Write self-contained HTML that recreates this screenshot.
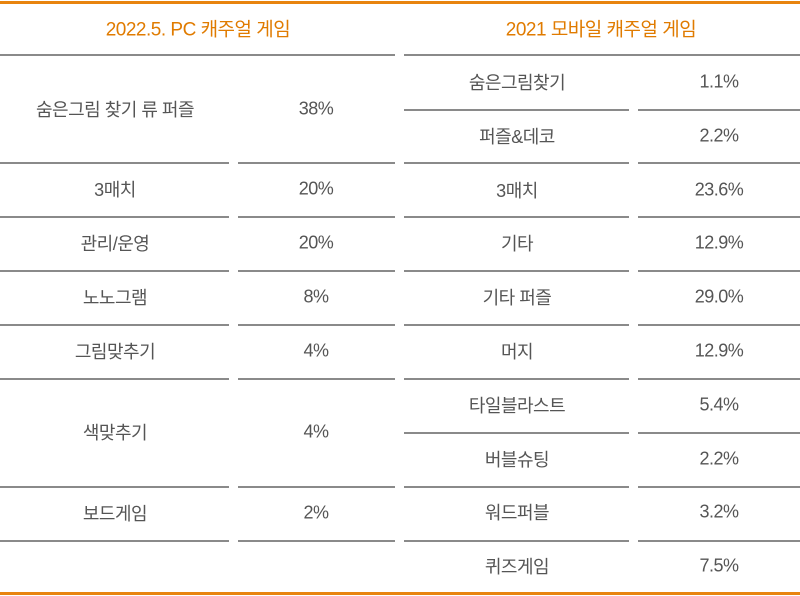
<!DOCTYPE html>
<html><head><meta charset="utf-8"><style>
body{margin:0;width:800px;height:596px;background:#fff;position:relative;overflow:hidden;font-family:"Liberation Sans","Noto Sans CJK KR",sans-serif;}
.l{position:absolute;height:2px;background:#8a8a8a;}
.o{position:absolute;height:3px;background:#e8840f;left:0;width:800px;}
.t{position:absolute;transform:translate(-50%,-50%);font-size:18px;color:#555;white-space:nowrap;letter-spacing:-0.5px;}
.h{color:#e07b00;font-size:19px;}
</style></head><body>
<div class="o" style="top:1px"></div>
<div class="o" style="top:592px"></div>
<div class="l" style="top:54px;left:0;width:395px"></div>
<div class="l" style="top:54px;left:404px;width:396px"></div>
<div class="t h" style="left:198px;top:28px">2022.5. PC 캐주얼 게임</div>
<div class="t h" style="left:601px;top:28px">2021 모바일 캐주얼 게임</div>
<div id="c"></div>
<script>
var c=document.getElementById('c'),h='';
function ln(y,a,b){h+='<div class="l" style="top:'+y+'px;left:'+a+'px;width:'+(b-a)+'px"></div>';}
function tx(x,y,s){h+='<div class="t" style="left:'+x+'px;top:'+y+'px">'+s+'</div>';}
[162,216,270,324,378,486,540].forEach(function(y){ln(y,0,229);ln(y,238,395);});
[109,162,216,270,324,378,432,486,540].forEach(function(y){ln(y,404,629);ln(y,638,800);});
var L=[["숨은그림 찾기 류 퍼즐","38%",55,162],["3매치","20%",162,216],["관리/운영","20%",216,270],["노노그램","8%",270,324],["그림맞추기","4%",324,378],["색맞추기","4%",378,486],["보드게임","2%",486,540]];
L.forEach(function(r){var y=(r[2]+r[3])/2;tx(115,y,r[0]);tx(316,y,r[1]);});
var R=[["숨은그림찾기","1.1%"],["퍼즐&데코","2.2%"],["3매치","23.6%"],["기타","12.9%"],["기타 퍼즐","29.0%"],["머지","12.9%"],["타일블라스트","5.4%"],["버블슈팅","2.2%"],["워드퍼블","3.2%"],["퀴즈게임","7.5%"]];
R.forEach(function(r,i){var y=55+i*53.8+27;tx(517,y,r[0]);tx(719,y,r[1]);});
c.innerHTML=h;
</script>
</body></html>
